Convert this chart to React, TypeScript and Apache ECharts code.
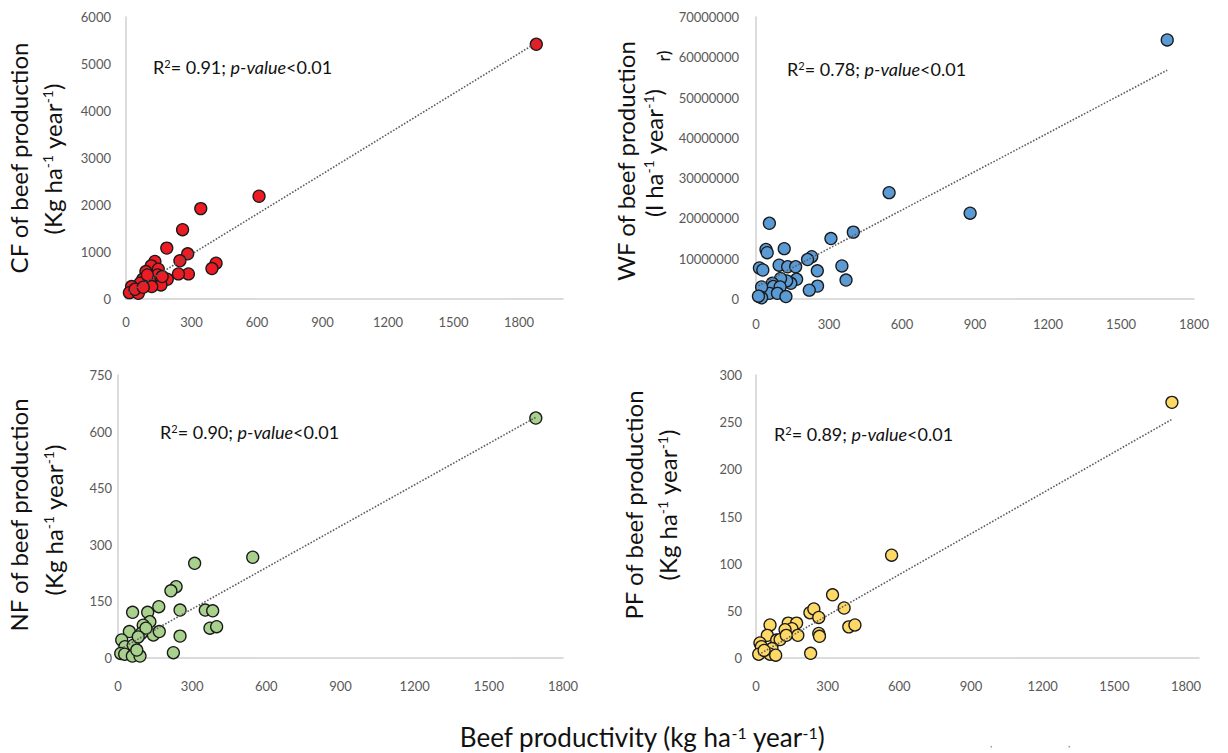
import React, { useEffect, useRef } from "react";
import * as echarts from "echarts";

// ---------- data ----------
const xTicks = [0, 300, 600, 900, 1200, 1500, 1800];

const cfPoints: [number, number][] = [
  [1690, 5420], [548, 2186], [308, 1923], [233, 1475], [168, 1083], [254, 962], [222, 812],
  [371, 762], [354, 648], [257, 534], [216, 534], [119, 798], [104, 705], [133, 634],
  [82, 584], [170, 420], [144, 299], [130, 513], [96, 406], [69, 420], [58, 335],
  [106, 264], [23, 264], [14, 135], [51, 121], [37, 207], [71, 250], [88, 513], [149, 477],
];
const cfTrend: [number, number][] = [[10, 130], [1690, 5450]];

const wfPoints: [number, number][] = [
  [1690, 64300000], [547, 26400000], [880, 21300000], [55, 18800000], [308, 15000000],
  [400, 16600000], [41, 12300000], [46, 11500000], [116, 12500000], [229, 10500000],
  [212, 9800000], [14, 7700000], [28, 7200000], [95, 8400000], [130, 8000000],
  [163, 8000000], [252, 7000000], [353, 8200000], [370, 4700000], [253, 3200000],
  [219, 2200000], [167, 4900000], [143, 3900000], [126, 4500000], [101, 5100000],
  [67, 3900000], [71, 3100000], [99, 3000000], [55, 1400000], [88, 1400000],
  [123, 600000], [23, 3000000], [14, 600000], [23, 300000], [10, 700000],
];
const wfTrend: [number, number][] = [[10, 3300000], [1690, 56800000]];

const nfPoints: [number, number][] = [
  [1690, 636], [545, 267], [310, 251], [235, 189], [214, 178], [165, 136], [59, 121],
  [120, 121], [251, 127], [353, 127], [383, 125], [129, 96], [102, 87], [46, 70],
  [94, 65], [143, 61], [167, 70], [251, 58], [372, 79], [399, 83], [15, 48], [28, 30],
  [62, 34], [224, 14], [11, 12], [27, 10], [58, 5], [89, 5], [76, 21], [113, 79], [82, 56],
];
const nfTrend: [number, number][] = [[10, 24], [1690, 638]];

const pfPoints: [number, number][] = [
  [1690, 271], [551, 109], [311, 67], [358, 53], [219, 48], [235, 52], [255, 43],
  [377, 33], [402, 35], [255, 26], [258, 23], [57, 35], [131, 37], [165, 37], [146, 31],
  [170, 24], [118, 30], [46, 24], [84, 19], [98, 19.5], [16, 16], [22, 12], [65, 10],
  [222, 5], [11, 4], [57, 4], [80, 3], [33, 8], [123, 24],
];
const pfTrend: [number, number][] = [[10, 3.5], [1690, 253]];

// ---------- styles ----------
const FONT = "Lato";
const LABEL_COLOR = "#595959";
const AXIS_COLOR = "#d0d0d0";
const TEXT_COLOR = "#111";

function supRich(size: number) {
  return {
    sup: { fontSize: Math.round(size * 0.6), verticalAlign: "top" as const, fontFamily: FONT, fill: TEXT_COLOR },
    it: { fontSize: size, fontStyle: "italic" as const, fontFamily: FONT, fill: TEXT_COLOR },
  };
}

function vTitle(x: number, y: number, text: string, size = 24) {
  return {
    type: "text",
    x,
    y,
    rotation: Math.PI / 2,
    style: {
      text,
      fontSize: size,
      fontFamily: FONT,
      fill: TEXT_COLOR,
      align: "center",
      verticalAlign: "middle",
      rich: supRich(size),
    },
  };
}

function r2Text(x: number, y: number, r2: string) {
  return {
    type: "text",
    x,
    y,
    style: {
      text: `R{sup|2}= ${r2}; {it|p-value}<0.01`,
      fontSize: 18,
      fontFamily: FONT,
      fill: TEXT_COLOR,
      align: "left",
      verticalAlign: "middle",
      rich: supRich(18),
    },
  };
}

export default function App() {
  const ref = useRef<HTMLDivElement>(null);

  useEffect(() => {
    if (!ref.current) return;
    const chart = echarts.init(ref.current, null, { renderer: "svg" });

    const grids = [
      { left: 126, top: 17, width: 437, height: 282 }, // 0 CF data
      { left: 126, top: 17, width: 393, height: 282 }, // 1 CF labels
      { left: 756, top: 17, width: 438, height: 282 }, // 2 WF
      { left: 118, top: 375, width: 445, height: 283 }, // 3 NF
      { left: 756, top: 375, width: 443, height: 283 }, // 4 PF data
      { left: 756, top: 375, width: 430, height: 283 }, // 5 PF labels
    ];

    const xLabel = { color: LABEL_COLOR, fontFamily: FONT, fontSize: 13 };
    const mkX = (gridIndex: number, showLine: boolean, showLabel: boolean, margin: number) => ({
      type: "value",
      gridIndex,
      min: xTicks[0],
      max: xTicks[xTicks.length - 1],
      interval: xTicks[1] - xTicks[0],
      axisLine: { show: showLine, lineStyle: { color: AXIS_COLOR, width: 1.5 } },
      axisTick: { show: false },
      splitLine: { show: false },
      axisLabel: { show: showLabel, margin, ...xLabel, formatter: (v: number) => String(v) },
    });
    const mkY = (gridIndex: number, max: number, interval: number, margin: number, show = true) => ({
      type: "value",
      gridIndex,
      show,
      min: 0,
      max,
      interval,
      axisLine: { show: true, lineStyle: { color: AXIS_COLOR, width: 1.5 } },
      axisTick: { show: false },
      splitLine: { show: false },
      axisLabel: { margin, ...xLabel, formatter: (v: number) => String(v) },
    });

    const scatter = (idx: number, data: [number, number][], color: string) => ({
      type: "scatter",
      xAxisIndex: idx,
      yAxisIndex: idx,
      data,
      symbolSize: 12,
      itemStyle: { color, borderColor: "#1a1a1a", borderWidth: 1.3, opacity: 1 },
      z: 2,
    });
    const trend = (idx: number, data: [number, number][]) => ({
      type: "line",
      xAxisIndex: idx,
      yAxisIndex: idx,
      data,
      showSymbol: false,
      symbol: "none",
      lineStyle: { type: "dotted", color: "#5e5e5e", width: 1.6 },
      z: 3,
    });

    chart.setOption({
      animation: false,
      backgroundColor: "#ffffff",
      grid: grids,
      xAxis: [
        mkX(0, true, false, 16),
        mkX(1, false, true, 16),
        mkX(2, true, true, 18),
        mkX(3, true, true, 21),
        mkX(4, true, false, 21),
        mkX(5, false, true, 21),
      ],
      yAxis: [
        mkY(0, 6000, 1000, 15),
        mkY(1, 6000, 1000, 15, false),
        mkY(2, 70000000, 10000000, 17),
        mkY(3, 750, 150, 6),
        mkY(4, 300, 50, 14),
        mkY(5, 300, 50, 14, false),
      ],
      series: [
        scatter(0, cfPoints, "#ED1C24"),
        trend(0, cfTrend),
        scatter(2, wfPoints, "#5B9BD5"),
        trend(2, wfTrend),
        scatter(3, nfPoints, "#A9D18E"),
        trend(3, nfTrend),
        scatter(4, pfPoints, "#FFD966"),
        trend(4, pfTrend),
      ],
      graphic: [
        vTitle(18, 158, "CF of beef production"),
        vTitle(52, 159, "(Kg ha{sup|-1} year{sup|-1})"),
        vTitle(625, 161, "WF of beef production"),
        vTitle(653, 153, "(l ha{sup|-1} year{sup|-1})"),
        vTitle(663, 56, "r)", 18),
        vTitle(18, 515, "NF of beef production"),
        vTitle(53, 520, "(Kg ha{sup|-1} year{sup|-1})"),
        vTitle(633, 505, "PF of beef production"),
        vTitle(667, 505, "(Kg ha{sup|-1} year{sup|-1})"),
        r2Text(153, 67, "0.91"),
        r2Text(787, 69, "0.78"),
        r2Text(160, 432, "0.90"),
        r2Text(774, 434, "0.89"),
        {
          type: "text",
          x: 642,
          y: 737,
          style: {
            text: "Beef productivity (kg ha{sup|-1} year{sup|-1})",
            fontSize: 26,
            fontFamily: FONT,
            fill: TEXT_COLOR,
            align: "center",
            verticalAlign: "middle",
            rich: supRich(26),
          },
        },
        { type: "text", x: 990, y: 738, style: { text: ",", fontSize: 10, fill: "#777", fontFamily: FONT } },
        { type: "text", x: 1068, y: 738, style: { text: ",", fontSize: 10, fill: "#777", fontFamily: FONT } },
      ],
    });

    return () => chart.dispose();
  }, []);

  return (
    <div
      ref={ref}
      style={{ position: "absolute", left: 0, top: 0, width: 1228, height: 753, background: "#fff" }}
    />
  );
}
